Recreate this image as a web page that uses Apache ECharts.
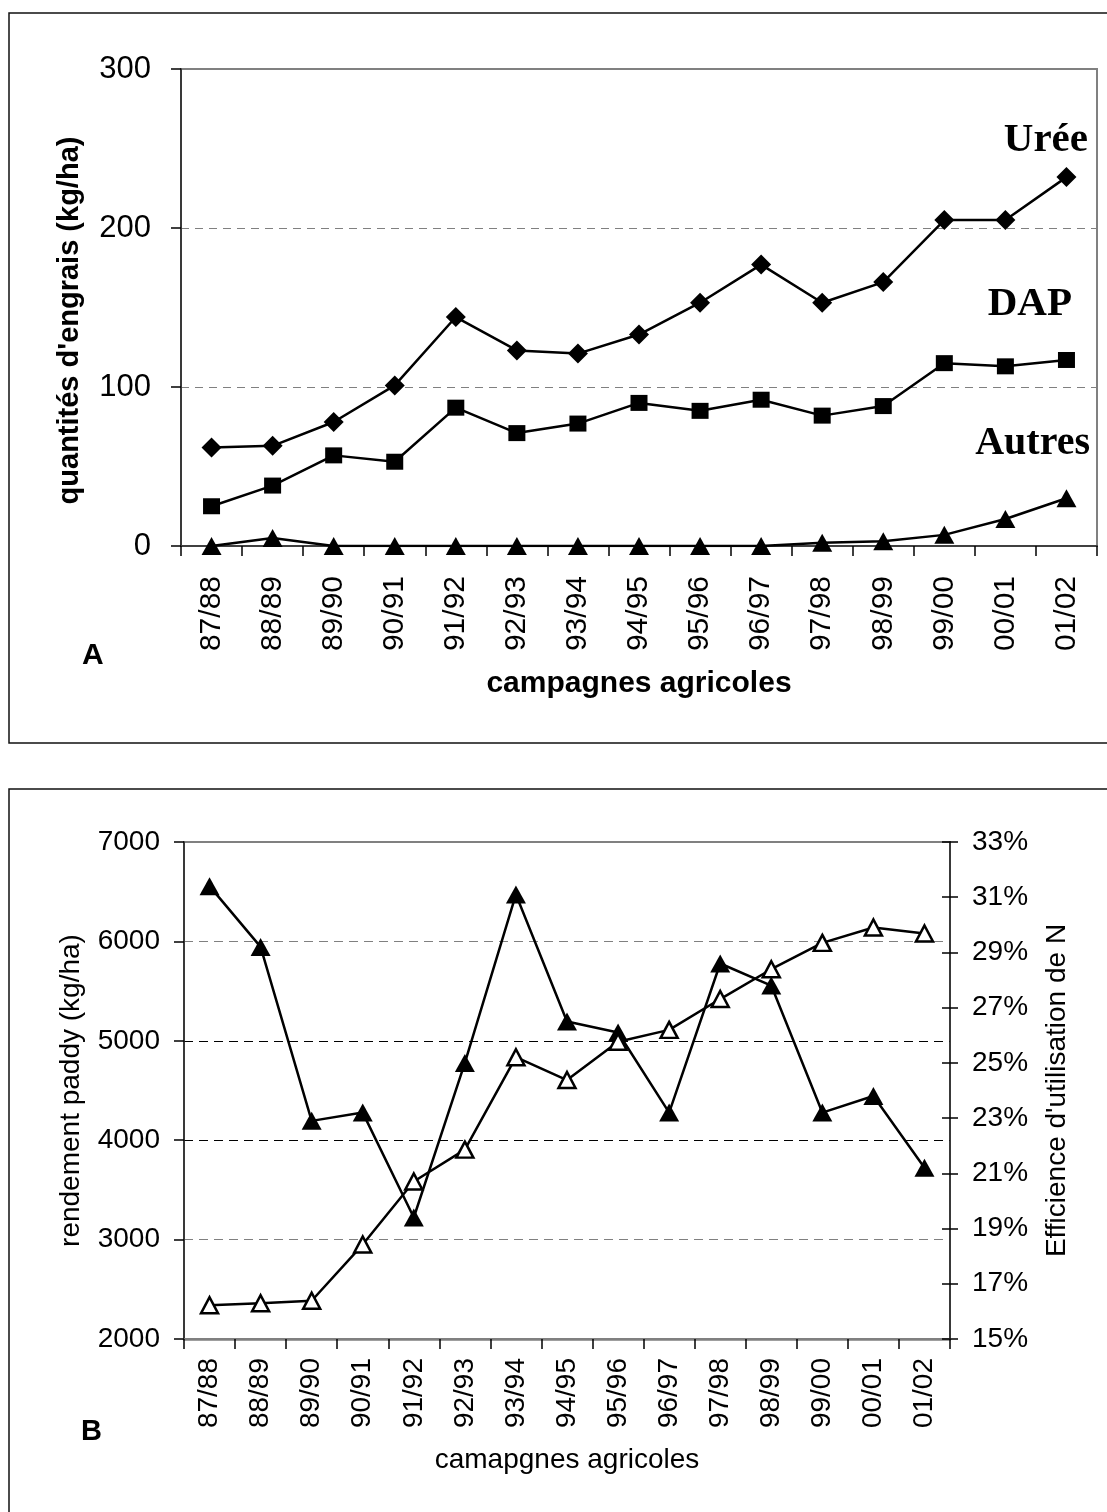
<!DOCTYPE html>
<html>
<head>
<meta charset="utf-8">
<title>Engrais et rendement</title>
<script src="https://cdn.jsdelivr.net/npm/echarts@6/dist/echarts.min.js"></script>
<style>
    html, body { margin: 0; padding: 0; background: #fff; }
    #chart { width: 1107px; height: 1512px; }
</style>
</head>
<body>
<div id="chart"></div>
<script>
// campagnes agricoles (axe x des deux graphiques)
var campagnes = ['87/88', '88/89', '89/90', '90/91', '91/92', '92/93', '93/94', '94/95',
    '95/96', '96/97', '97/98', '98/99', '99/00', '00/01', '01/02'];

// A : quantités d'engrais (kg/ha)
var uree = [62, 63, 78, 101, 144, 123, 121, 133, 153, 177, 153, 166, 205, 205, 232];
var dap = [25, 38, 57, 53, 87, 71, 77, 90, 85, 92, 82, 88, 115, 113, 117];
var autres = [0, 5, 0, 0, 0, 0, 0, 0, 0, 0, 2, 3, 7, 17, 30];

// B : rendement paddy (kg/ha) et efficience d'utilisation de N (%)
var rendement = [2340, 2360, 2385, 2950, 3585, 3905, 4835, 4605, 4990, 5110, 5420, 5720, 5985, 6140, 6080];
var efficience = [31.4, 29.2, 22.9, 23.2, 19.4, 25.0, 31.1, 26.5, 26.1, 23.2, 28.6, 27.8, 23.2, 23.8, 21.2];

// échelles des axes
var axeA = [0, 300, 100];
var axeRendement = [2000, 7000, 1000];
var axeEfficience = [15, 33, 2];

var sans = '"Liberation Sans", Arial, sans-serif';
var serif = '"Liberation Serif", "Times New Roman", serif';

var chart = echarts.init(document.getElementById('chart'), null, { renderer: 'canvas' });

function axeX(grid, fontSize, margin, name, nameGap, bold) {
    return {
        type: 'category',
        gridIndex: grid,
        data: campagnes,
        boundaryGap: true,
        axisLine: { show: true, lineStyle: { color: grid === 0 ? '#404040' : '#808080', width: grid === 0 ? 2 : 2.5 } },
        axisTick: { show: true, interval: 0, length: 10, lineStyle: { color: '#000', width: 1.5 } },
        axisLabel: { interval: 0, rotate: 90, margin: margin, fontSize: fontSize, color: '#000', fontFamily: sans },
        splitLine: { show: false },
        name: name,
        nameLocation: 'middle',
        nameGap: nameGap,
        nameTextStyle: { fontSize: fontSize, color: '#000', fontFamily: sans, fontWeight: bold ? 'bold' : 'normal' }
    };
}

function serie(name, x, y, data, symbol, size, open) {
    return {
        name: name,
        type: 'line',
        xAxisIndex: x,
        yAxisIndex: y,
        data: data,
        symbol: symbol,
        symbolSize: size,
        showSymbol: true,
        showAllSymbol: true,
        lineStyle: { color: '#000', width: 2.5 },
        itemStyle: open ? { color: '#fff', borderColor: '#000', borderWidth: 2.5 } : { color: '#000', borderWidth: 0 },
        z: open ? 3 : 2
    };
}

var option = {
    animation: false,
    backgroundColor: '#fff',
    grid: [
        { left: 181, top: 69, width: 916, height: 477, show: true, borderColor: '#808080', borderWidth: 2 },
        { left: 184, top: 842, width: 766, height: 497, show: true, borderColor: '#808080', borderWidth: 2 }
    ],
    xAxis: [
        axeX(0, 30, 30, 'campagnes agricoles', 123, true),
        axeX(1, 28, 19, 'camapgnes agricoles', 107, false)
    ],
    yAxis: [
        {
            type: 'value',
            gridIndex: 0,
            min: axeA[0], max: axeA[1], interval: axeA[2],
            axisLine: { show: true, lineStyle: { color: '#222', width: 1.5 } },
            axisTick: { show: true, length: 10, lineStyle: { color: '#000', width: 1.5 } },
            axisLabel: { margin: 30, fontSize: 31, color: '#000', fontFamily: sans },
            splitLine: { show: true, lineStyle: { color: '#808080', width: 1, type: [8, 6] } },
            name: "quantités d'engrais (kg/ha)",
            nameLocation: 'middle',
            nameRotate: 90,
            nameGap: 97,
            nameTextStyle: { fontSize: 29, fontWeight: 'bold', color: '#000', fontFamily: sans, padding: [0, 26, 0, 0] }
        },
        {
            type: 'value',
            gridIndex: 1,
            position: 'left',
            min: axeRendement[0], max: axeRendement[1], interval: axeRendement[2],
            axisLine: { show: true, lineStyle: { color: '#222', width: 1.5 } },
            axisTick: { show: true, length: 10, lineStyle: { color: '#000', width: 1.5 } },
            axisLabel: {
                margin: 24, fontSize: 28, color: '#000', fontFamily: sans,
                formatter: function (v) { return String(v); }
            },
            splitLine: {
                show: true,
                lineStyle: { color: ['transparent', '#808080', '#000', '#000', '#808080', 'transparent'], width: 1, type: [9, 6] }
            },
            name: 'rendement paddy (kg/ha)',
            nameLocation: 'middle',
            nameRotate: 90,
            nameGap: 99,
            nameTextStyle: { fontSize: 28, color: '#000', fontFamily: sans }
        },
        {
            type: 'value',
            gridIndex: 1,
            position: 'right',
            min: axeEfficience[0], max: axeEfficience[1], interval: axeEfficience[2],
            axisLine: { show: true, lineStyle: { color: '#222', width: 1.5 } },
            axisTick: { show: true, length: 8, lineStyle: { color: '#000', width: 1.5 } },
            axisLabel: { margin: 22, fontSize: 28, color: '#000', fontFamily: sans, formatter: '{value}%' },
            splitLine: { show: false },
            name: "Efficience d'utilisation de N",
            nameLocation: 'middle',
            nameRotate: 90,
            nameGap: 93,
            nameTextStyle: { fontSize: 28, color: '#000', fontFamily: sans }
        },
        {
            // graduations intérieures de l'axe droit (tirets qui traversent l'axe)
            type: 'value',
            gridIndex: 1,
            position: 'right',
            min: axeEfficience[0], max: axeEfficience[1], interval: axeEfficience[2],
            axisLine: { show: false },
            axisTick: { show: true, inside: true, length: 8, lineStyle: { color: '#000', width: 1.5 } },
            axisLabel: { show: false },
            splitLine: { show: false }
        }
    ],
    series: [
        serie('Urée', 0, 0, uree, 'diamond', [20, 20], false),
        serie('DAP', 0, 0, dap, 'rect', [17, 16], false),
        serie('Autres', 0, 0, autres, 'triangle', [20, 18], false),
        serie('Efficience', 1, 2, efficience, 'triangle', [20, 18], false),
        serie('Rendement', 1, 1, rendement, 'triangle', [17, 16], true)
    ],
    graphic: [
        { type: 'rect', shape: { x: 9, y: 13, width: 1130, height: 730 }, style: { fill: 'none', stroke: '#111', lineWidth: 1.5 } },
        { type: 'rect', shape: { x: 9, y: 789, width: 1130, height: 760 }, style: { fill: 'none', stroke: '#111', lineWidth: 1.5 } },
        { type: 'text', x: 82, y: 656, style: { text: 'A', font: 'bold 30px ' + sans, fill: '#000', textAlign: 'left', textVerticalAlign: 'middle' } },
        { type: 'text', x: 81, y: 1432, style: { text: 'B', font: 'bold 29px ' + sans, fill: '#000', textAlign: 'left', textVerticalAlign: 'middle' } },
        { type: 'text', x: 1088, y: 140, style: { text: 'Urée', font: 'bold 41px ' + serif, fill: '#000', textAlign: 'right', textVerticalAlign: 'middle' } },
        { type: 'text', x: 1072, y: 304, style: { text: 'DAP', font: 'bold 41px ' + serif, fill: '#000', textAlign: 'right', textVerticalAlign: 'middle' } },
        { type: 'text', x: 1090, y: 444, style: { text: 'Autres', font: 'bold 40px ' + serif, fill: '#000', textAlign: 'right', textVerticalAlign: 'middle' } }
    ]
};

chart.setOption(option);
</script>
</body>
</html>
